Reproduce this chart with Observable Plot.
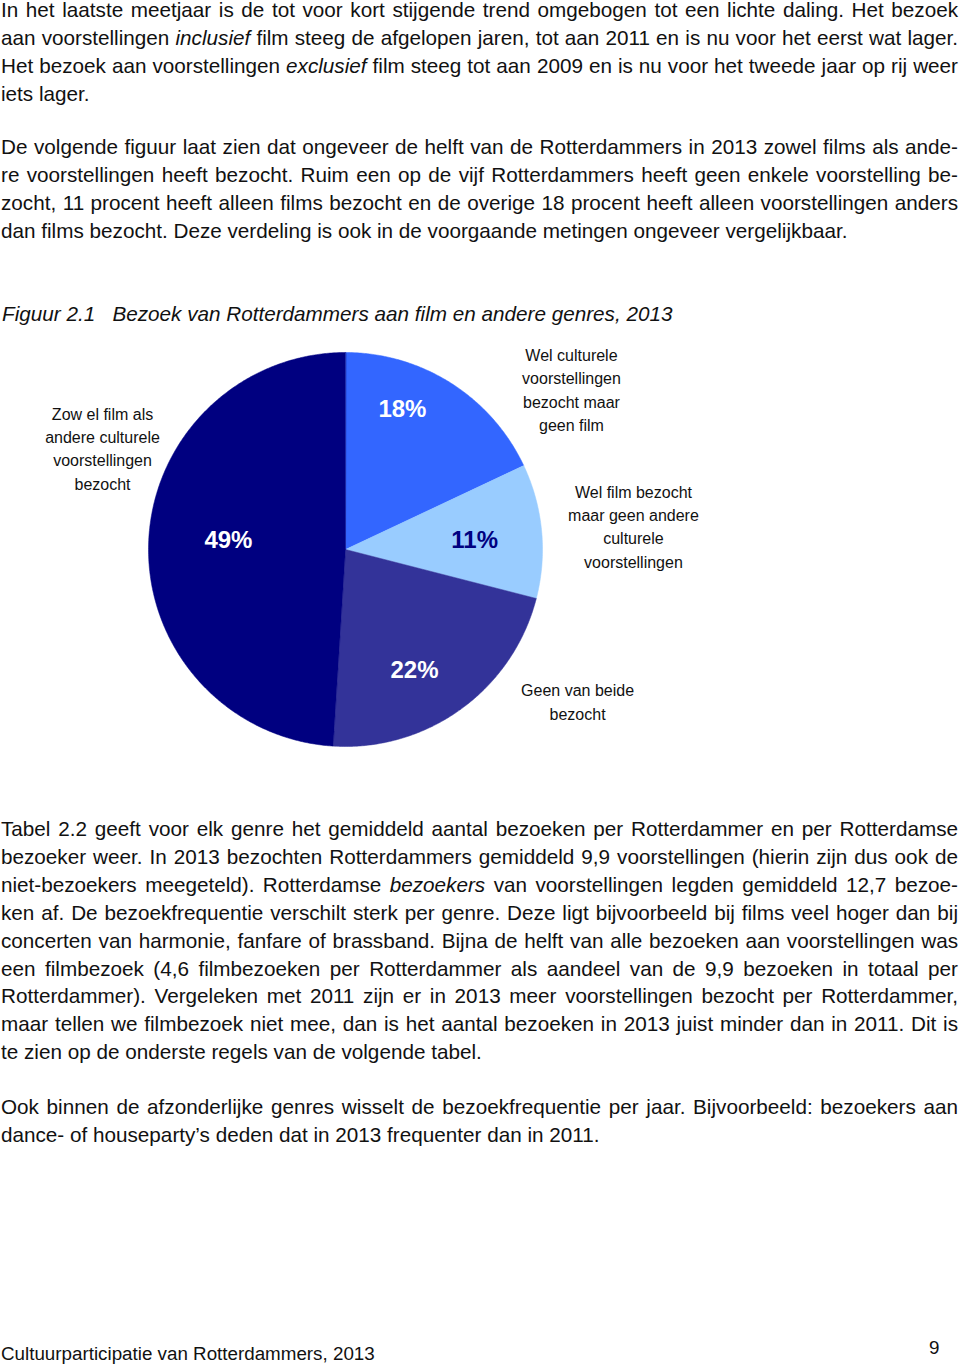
<!DOCTYPE html>
<html>
<head>
<meta charset="utf-8">
<script src="https://cdn.jsdelivr.net/npm/d3@7"></script>
<script src="https://cdn.jsdelivr.net/npm/@observablehq/plot@0.6"></script>
<style>
  html, body { margin: 0; padding: 0; background: #fff; }
  body { width: 960px; height: 1366px; position: relative; overflow: hidden;
         font-family: "Liberation Sans", Arial, Helvetica, sans-serif; color: #111; }
  .block { position: absolute; left: 1px; width: 957px; font-size: 20.7px; line-height: 27.9px; }
  .j { text-align: justify; text-align-last: justify; }
  .l { text-align: left; }
  #title { position: absolute; left: 2px; top: 300px; font-size: 20.7px; line-height: 28px; font-style: italic; white-space: pre; }
  #chart { position: absolute; left: 0; top: 340px; }
  #footer { position: absolute; left: 1px; top: 1341px; font-size: 18.8px; line-height: 26px; }
  #pagenum { position: absolute; left: 929px; top: 1335px; font-size: 18.8px; line-height: 26px; }
</style>
</head>
<body>
<div class="block" style="top:-4px">
  <div class="j">In het laatste meetjaar is de tot voor kort stijgende trend omgebogen tot een lichte daling. Het bezoek</div>
  <div class="j">aan voorstellingen <i>inclusief</i> film steeg de afgelopen jaren, tot aan 2011 en is nu voor het eerst wat lager.</div>
  <div class="j">Het bezoek aan voorstellingen <i>exclusief</i> film steeg tot aan 2009 en is nu voor het tweede jaar op rij weer</div>
  <div class="l">iets lager.</div>
</div>
<div class="block" style="top:133px">
  <div class="j">De volgende figuur laat zien dat ongeveer de helft van de Rotterdammers in 2013 zowel films als ande-</div>
  <div class="j">re voorstellingen heeft bezocht. Ruim een op de vijf Rotterdammers heeft geen enkele voorstelling be-</div>
  <div class="j">zocht, 11 procent heeft alleen films bezocht en de overige 18 procent heeft alleen voorstellingen anders</div>
  <div class="l">dan films bezocht. Deze verdeling is ook in de voorgaande metingen ongeveer vergelijkbaar.</div>
</div>
<div id="title">Figuur 2.1   Bezoek van Rotterdammers aan film en andere genres, 2013</div>
<div id="chart"></div>
<div class="block" style="top:815px">
  <div class="j">Tabel 2.2 geeft voor elk genre het gemiddeld aantal bezoeken per Rotterdammer en per Rotterdamse</div>
  <div class="j">bezoeker weer. In 2013 bezochten Rotterdammers gemiddeld 9,9 voorstellingen (hierin zijn dus ook de</div>
  <div class="j">niet-bezoekers meegeteld). Rotterdamse <i>bezoekers</i> van voorstellingen legden gemiddeld 12,7 bezoe-</div>
  <div class="j">ken af. De bezoekfrequentie verschilt sterk per genre. Deze ligt bijvoorbeeld bij films veel hoger dan bij</div>
  <div class="j">concerten van harmonie, fanfare of brassband. Bijna de helft van alle bezoeken aan voorstellingen was</div>
  <div class="j">een filmbezoek (4,6 filmbezoeken per Rotterdammer als aandeel van de 9,9 bezoeken in totaal per</div>
  <div class="j">Rotterdammer). Vergeleken met 2011 zijn er in 2013 meer voorstellingen bezocht per Rotterdammer,</div>
  <div class="j">maar tellen we filmbezoek niet mee, dan is het aantal bezoeken in 2013 juist minder dan in 2011. Dit is</div>
  <div class="l">te zien op de onderste regels van de volgende tabel.</div>
</div>
<div class="block" style="top:1093px">
  <div class="j">Ook binnen de afzonderlijke genres wisselt de bezoekfrequentie per jaar. Bijvoorbeeld: bezoekers aan</div>
  <div class="l">dance- of houseparty’s deden dat in 2013 frequenter dan in 2011.</div>
</div>
<div id="footer">Cultuurparticipatie van Rotterdammers, 2013</div>
<div id="pagenum">9</div>

<script>
// ---- data (clockwise from 12 o'clock) ----
const categories = [
  "Wel culturele\nvoorstellingen\nbezocht maar\ngeen film",
  "Wel film bezocht\nmaar geen andere\nculturele\nvoorstellingen",
  "Geen van beide\nbezocht",
  "Zow el film als\nandere culturele\nvoorstellingen\nbezocht"
];
const percentages = [18, 11, 22, 49];
const percentLabels = ["18%", "11%", "22%", "49%"];

// ---- styling / layout (kept apart from the data) ----
const sliceColors = ["#3366FF", "#99CCFF", "#333399", "#000080"];
const percentColors = ["#ffffff", "#000080", "#ffffff", "#ffffff"];
const percentAngleShift = [-10.3, 1.4, 6.3, 2.6];   // degrees relative to slice mid-angle
const percentRadius = [0.768, 0.657, 0.707, 0.596]; // fraction of pie radius
const catAngleShift = [22.5, 1.0, -20.6, 20.6];
const catRadius = [1.402, 1.466, 1.411, 1.334];

// ---- build slices ----
const total = d3.sum(percentages);
let acc = 0;
const slices = percentages.map((v, i) => {
  const a0 = acc / total * 2 * Math.PI;
  acc += v;
  const a1 = acc / total * 2 * Math.PI;
  const n = Math.max(2, Math.ceil((a1 - a0) / (Math.PI / 360)));
  const pts = [{x: 0, y: 0}];
  for (let k = 0; k <= n; k++) {
    const a = a0 + (a1 - a0) * k / n;
    pts.push({x: Math.sin(a), y: Math.cos(a)});
  }
  const mid = (a0 + a1) / 2;
  return {i, v, a0, a1, mid, pts};
});

const deg = Math.PI / 180;
const pctData = slices.map(s => {
  const a = s.mid + percentAngleShift[s.i] * deg;
  return {x: percentRadius[s.i] * Math.sin(a), y: percentRadius[s.i] * Math.cos(a),
          text: percentLabels[s.i], color: percentColors[s.i]};
});
const catData = slices.map(s => {
  const a = s.mid + catAngleShift[s.i] * deg;
  return {x: catRadius[s.i] * Math.sin(a), y: catRadius[s.i] * Math.cos(a), text: categories[s.i]};
});

const cx = 345, cy = 209, R = 197;
const chart = Plot.plot({
  width: 960,
  height: 420,
  x: {domain: [-1, 1], range: [cx - R, cx + R], axis: null},
  y: {domain: [-1, 1], range: [cy + R, cy - R], axis: null},
  style: {fontFamily: "'Liberation Sans', Arial, Helvetica, sans-serif", background: "transparent"},
  marks: [
    ...slices.map(s => Plot.line(s.pts, {
      x: "x", y: "y", curve: "linear-closed",
      fill: sliceColors[s.i], stroke: sliceColors[s.i], strokeWidth: 0.5
    })),
    Plot.text(pctData, {
      x: "x", y: "y", text: "text", fill: "color",
      fontSize: 24, fontWeight: "bold"
    }),
    Plot.text(catData, {
      x: "x", y: "y", text: "text", fill: "#111", dy: -2,
      fontSize: 16, lineHeight: 1.46
    })
  ]
});
document.getElementById("chart").appendChild(chart);
</script>
</body>
</html>
